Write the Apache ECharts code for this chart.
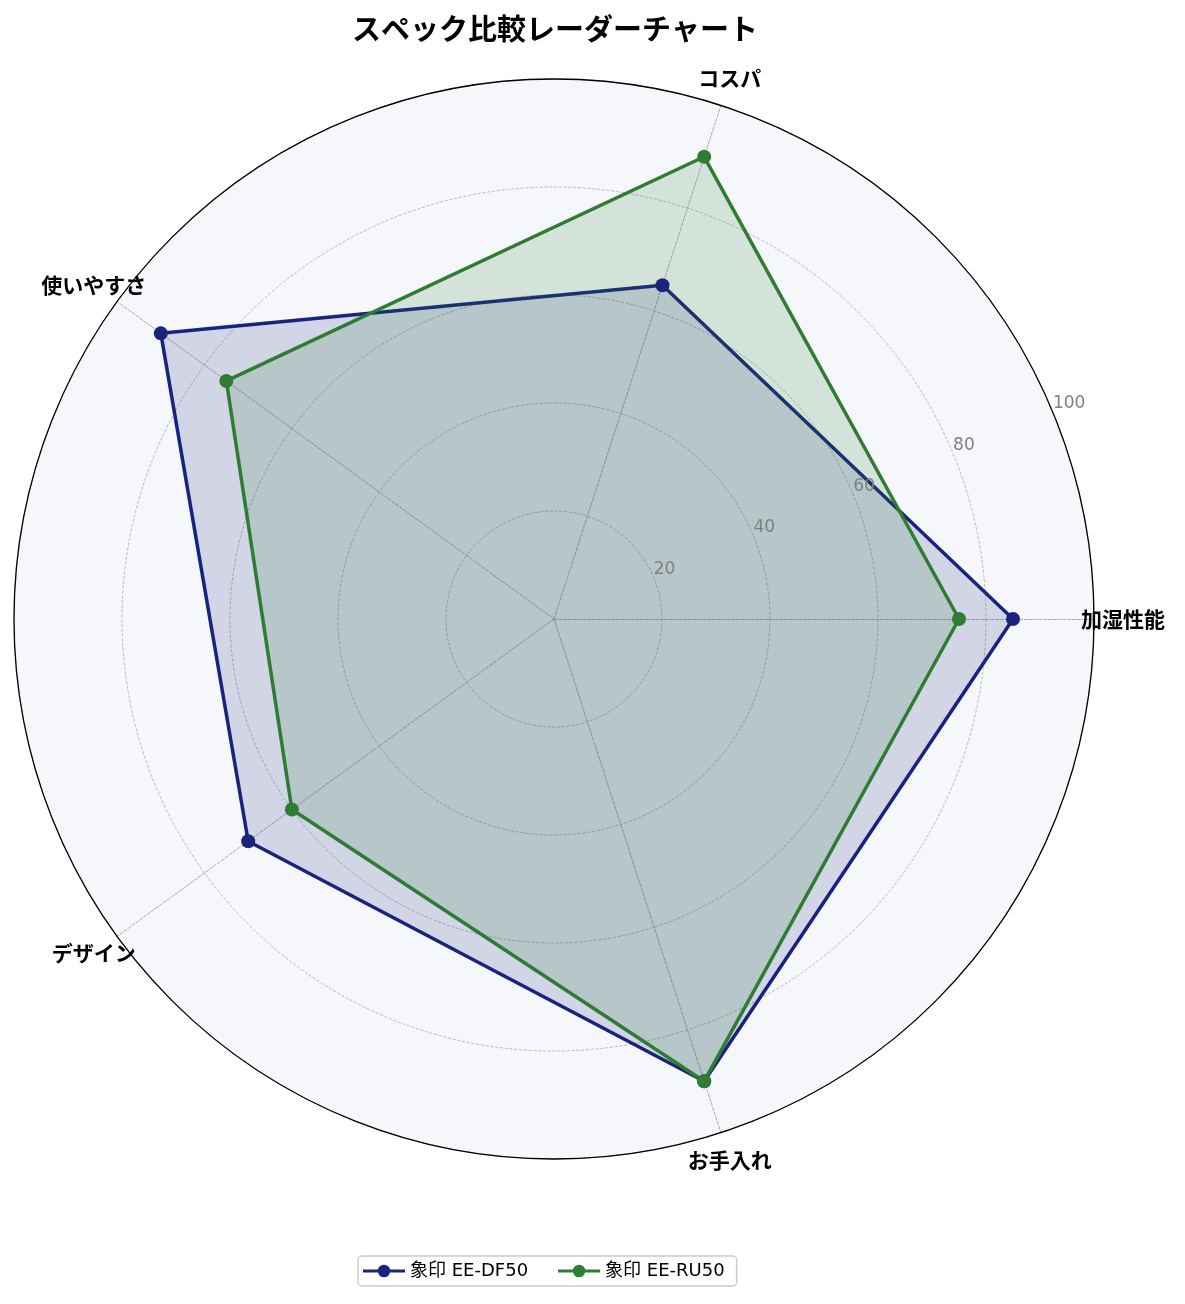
<!DOCTYPE html>
<html lang="ja">
<head>
<meta charset="UTF-8">
<title>スペック比較レーダーチャート</title>
<style>
    html, body { margin: 0; padding: 0; background: #fff; }
    #chart { width: 1185px; height: 1304px; }
</style>
</head>
<body>
<div id="chart"></div>
<script src="https://cdn.jsdelivr.net/npm/echarts@6/dist/echarts.min.js"></script>
<script>
    // categories and values
    var categories = ['加湿性能', 'コスパ', '使いやすさ', 'デザイン', 'お手入れ'];
    var seriesNames = ['象印 EE-DF50', '象印 EE-RU50'];
    var dfValues = [85, 65, 90, 70, 90];
    var ruValues = [75, 90, 75, 60, 90];
    var radiusTicks = [0, 20, 40, 60, 80, 100];

    var FONT = '"Noto Sans CJK JP", "Noto Sans", sans-serif';
    var LATIN = '"DejaVu Sans", "Noto Sans CJK JP", sans-serif';
    var CX = 554, CY = 619, R = 540;
    var colors = ['#1a237e', '#2e7d32'];
    // legend icon: line with a circle marker in the middle
    var lineMarkerIcon = 'path://M0,5.5H14V8.5H0Z M26,5.5H40V8.5H26Z M26,7A6,6 0 1 1 14,7A6,6 0 1 1 26,7Z';

    var chart = echarts.init(document.getElementById('chart'));

    var option = {
        backgroundColor: '#ffffff',
        title: {
            text: 'スペック比較レーダーチャート',
            left: 550,
            top: 9,
            textAlign: 'center',
            textStyle: { fontFamily: FONT, fontSize: 29, fontWeight: 'bold', color: '#000' }
        },
        legend: {
            data: seriesNames,
            left: 358,
            top: 1256,
            orient: 'horizontal',
            borderColor: '#cccccc',
            borderWidth: 1.5,
            borderRadius: 4,
            padding: [6, 12, 6, 5],
            itemGap: 30,
            itemWidth: 42,
            itemHeight: 14,
            textStyle: { fontFamily: LATIN, fontSize: 18, color: '#000' },
            icon: lineMarkerIcon
        },
        radar: {
            center: [CX, CY],
            radius: R,
            startAngle: 0,
            shape: 'circle',
            splitNumber: 5,
            indicator: categories.map(function (c) { return { name: c, max: 100, min: 0 }; }),
            nameGap: 29,
            axisName: {
                color: '#000',
                fontFamily: FONT,
                fontSize: 21,
                fontWeight: 'bold',
                align: 'center',
                verticalAlign: 'middle'
            },
            axisLine: { lineStyle: { color: '#999', type: 'dashed', width: 0.8 } },
            splitLine: { lineStyle: { color: '#aaa', type: 'dashed', width: 0.8 } },
            splitArea: { areaStyle: { color: ['#f5f7fb'] } },
            axisTick: { show: false },
            axisLabel: { show: false }
        },
        // polar only used for the outer ring and the radial tick labels at 22.5°
        polar: { center: [CX, CY], radius: R },
        angleAxis: {
            type: 'value',
            min: 0,
            max: 360,
            startAngle: 22.5,
            z: 10,
            axisLine: { lineStyle: { color: '#000', width: 1.3 } },
            axisTick: { show: false },
            axisLabel: { show: false },
            splitLine: { show: false }
        },
        radiusAxis: {
            type: 'value',
            min: radiusTicks[0],
            max: radiusTicks[radiusTicks.length - 1],
            interval: 20,
            z: 10,
            axisLine: { show: false },
            axisTick: { show: false },
            splitLine: { show: false },
            axisLabel: {
                showMinLabel: false,
                margin: 0,
                align: 'left',
                verticalAlign: 'bottom',
                rotate: 0,
                color: '#808080',
                fontFamily: LATIN,
                fontSize: 17
            }
        },
        series: [{
            type: 'radar',
            z: 3,
            symbol: 'circle',
            symbolSize: 14,
            data: [{
                name: seriesNames[0],
                value: dfValues,
                itemStyle: { color: colors[0] },
                lineStyle: { color: colors[0], width: 3.5 },
                areaStyle: { color: colors[0], opacity: 0.16 }
            }, {
                name: seriesNames[1],
                value: ruValues,
                itemStyle: { color: colors[1] },
                lineStyle: { color: colors[1], width: 3.5 },
                areaStyle: { color: colors[1], opacity: 0.16 }
            }]
        }]
    };

    chart.setOption(option);
</script>
</body>
</html>
